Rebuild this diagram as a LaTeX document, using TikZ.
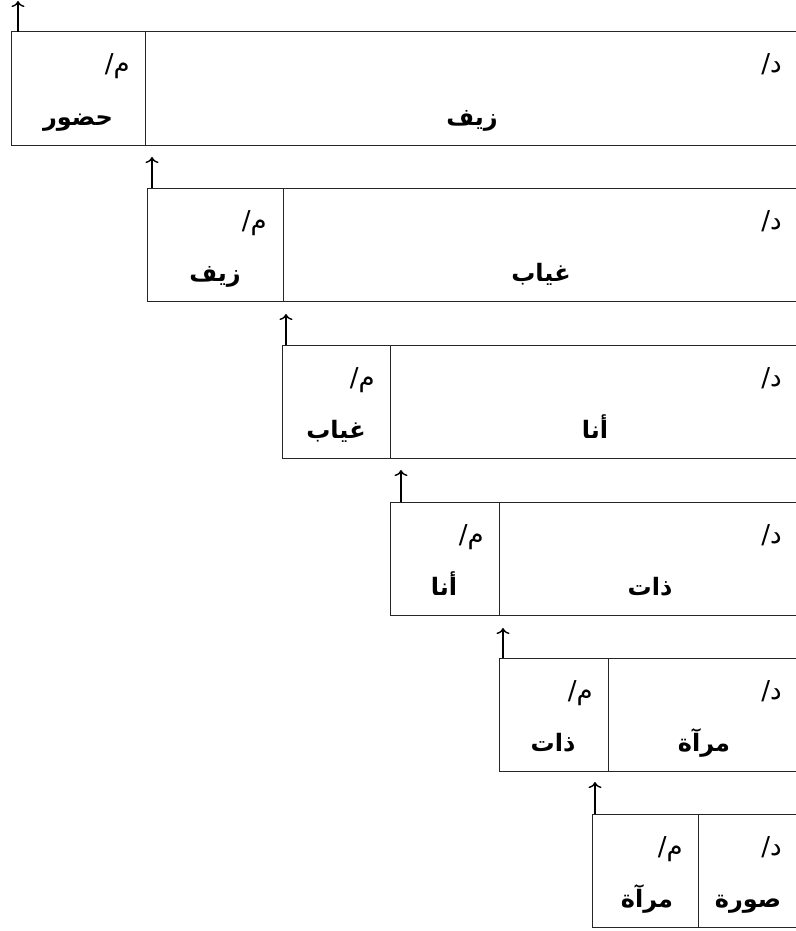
\documentclass[tikz,border=0pt]{standalone}
\usepackage{fontspec}
\usetikzlibrary{arrows.meta}
\newfontfamily\arabicfont[Script=Arabic]{DejaVu Sans}
\TeXXeTstate=1
\begin{document}
\begin{tikzpicture}[x=1pt,y=-1pt,
  cell/.style={draw=black!85, line width=1pt, rectangle, inner sep=0pt, outer sep=0pt, anchor=north west, minimum height=113pt},
  tag/.style={font=\arabicfont\fontsize{26}{30}\selectfont, anchor=base east, inner sep=0pt},
  word/.style={font=\arabicfont\bfseries\fontsize{24}{28}\selectfont, anchor=base, inner sep=0pt},
  up/.style={-{To[length=6pt,width=13pt]}, line width=1.4pt}]
\useasboundingbox (0,0) rectangle (795,931);
% box 1
\node[cell, minimum width=134pt] (m1) at (11,32) {};
\node[cell, minimum width=655pt] (d1) at (145,32) {};
\node[tag] (mt1) at (130,73) {\beginR م/\endR};
\node[tag] (dt1) at (782,73) {\beginR د/\endR};
\node[word] (mw1) at (78,125) {\beginR حضور\endR};
\node[word] (dw1) at (472,125) {\beginR زيف\endR};
\coordinate (a1) at (18,32); \coordinate (t1) at (18,1);
\draw[up] (a1) -- (t1);
% box 2
\node[cell, minimum width=136pt] (m2) at (147,188) {};
\node[cell, minimum width=517pt] (d2) at (283,188) {};
\node[tag] (mt2) at (267,229) {\beginR م/\endR};
\node[tag] (dt2) at (782,229) {\beginR د/\endR};
\node[word] (mw2) at (215,281) {\beginR زيف\endR};
\node[word] (dw2) at (541,281) {\beginR غياب\endR};
\coordinate (a2) at (152,188); \coordinate (t2) at (152,157);
\draw[up] (a2) -- (t2);
% box 3
\node[cell, minimum width=108pt] (m3) at (282,345) {};
\node[cell, minimum width=410pt] (d3) at (390,345) {};
\node[tag] (mt3) at (375,386) {\beginR م/\endR};
\node[tag] (dt3) at (782,386) {\beginR د/\endR};
\node[word] (mw3) at (336,438) {\beginR غياب\endR};
\node[word] (dw3) at (595,438) {\beginR أنا\endR};
\coordinate (a3) at (286,345); \coordinate (t3) at (286,314);
\draw[up] (a3) -- (t3);
% box 4
\node[cell, minimum width=109pt] (m4) at (390,502) {};
\node[cell, minimum width=301pt] (d4) at (499,502) {};
\node[tag] (mt4) at (484,543) {\beginR م/\endR};
\node[tag] (dt4) at (782,543) {\beginR د/\endR};
\node[word] (mw4) at (444,595) {\beginR أنا\endR};
\node[word] (dw4) at (650,595) {\beginR ذات\endR};
\coordinate (a4) at (401,502); \coordinate (t4) at (401,470);
\draw[up] (a4) -- (t4);
% box 5
\node[cell, minimum width=109pt] (m5) at (499,658) {};
\node[cell, minimum width=192pt] (d5) at (608,658) {};
\node[tag] (mt5) at (593,699) {\beginR م/\endR};
\node[tag] (dt5) at (782,699) {\beginR د/\endR};
\node[word] (mw5) at (553,751) {\beginR ذات\endR};
\node[word] (dw5) at (704,751) {\beginR مرآة\endR};
\coordinate (a5) at (503,658); \coordinate (t5) at (503,628);
\draw[up] (a5) -- (t5);
% box 6
\node[cell, minimum width=106pt] (m6) at (592,814) {};
\node[cell, minimum width=102pt] (d6) at (698,814) {};
\node[tag] (mt6) at (683,855) {\beginR م/\endR};
\node[tag] (dt6) at (782,855) {\beginR د/\endR};
\node[word] (mw6) at (647,907) {\beginR مرآة\endR};
\node[word] (dw6) at (748,907) {\beginR صورة\endR};
\coordinate (a6) at (595,814); \coordinate (t6) at (595,782);
\draw[up] (a6) -- (t6);
\end{tikzpicture}
\end{document}
